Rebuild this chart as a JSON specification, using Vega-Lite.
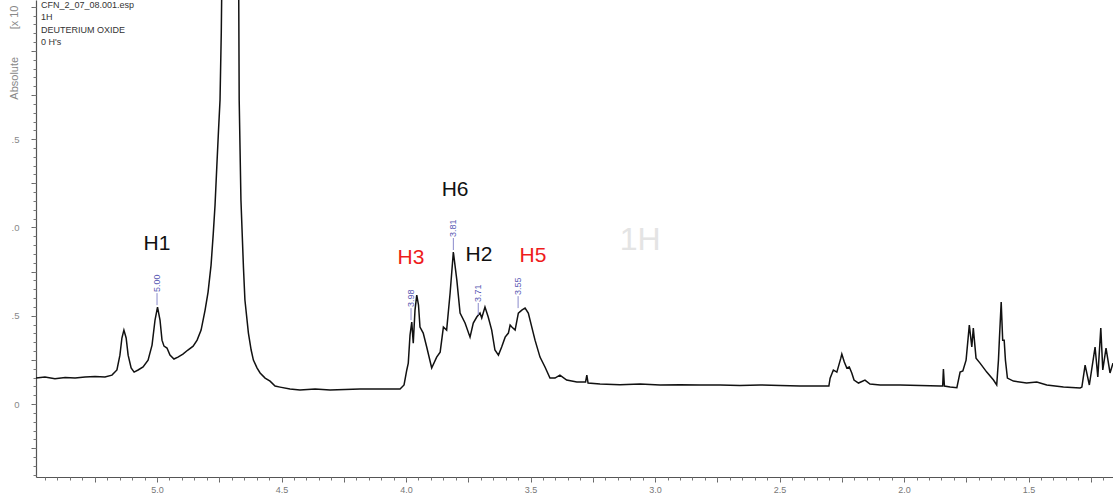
{
  "$schema": "https://vega.github.io/schema/vega-lite/v6.json",
  "width": 1077,
  "height": 477,
  "autosize": {"type": "none"},
  "padding": {"left": 36, "top": 0, "right": 0, "bottom": 17},
  "background": "white",
  "config": {"view": {"stroke": null}, "font": "Liberation Sans"},
  "title": {
    "text": ["CFN_2_07_08.001.esp", "1H", "DEUTERIUM OXIDE", "0 H's"],
    "anchor": "start", "frame": "group", "orient": "top",
    "fontSize": 9, "fontWeight": "normal", "font": "Liberation Sans",
    "color": "#333333", "lineHeight": 12.5, "baseline": "top", "offset": 0, "dx": 5, "dy": 47
  },
  "datasets": {
    "spectrum": [
      {"ppm":5.486,"intensity":0.147},{"ppm":5.450,"intensity":0.153},{"ppm":5.410,"intensity":0.144},{"ppm":5.369,"intensity":0.150},{"ppm":5.329,"intensity":0.147},{"ppm":5.289,"intensity":0.153},{"ppm":5.249,"intensity":0.156},{"ppm":5.209,"intensity":0.153},{"ppm":5.181,"intensity":0.164},{"ppm":5.161,"intensity":0.193},{"ppm":5.149,"intensity":0.277},{"ppm":5.141,"intensity":0.374},{"ppm":5.133,"intensity":0.419},{"ppm":5.124,"intensity":0.374},{"ppm":5.116,"intensity":0.277},{"ppm":5.104,"intensity":0.204},{"ppm":5.092,"intensity":0.181},{"ppm":5.076,"intensity":0.193},{"ppm":5.056,"intensity":0.210},{"ppm":5.036,"intensity":0.249},{"ppm":5.020,"intensity":0.334},{"ppm":5.008,"intensity":0.476},{"ppm":4.998,"intensity":0.549},{"ppm":4.988,"intensity":0.476},{"ppm":4.980,"intensity":0.362},{"ppm":4.972,"intensity":0.328},{"ppm":4.960,"intensity":0.317},{"ppm":4.948,"intensity":0.277},{"ppm":4.932,"intensity":0.255},{"ppm":4.916,"intensity":0.266},{"ppm":4.896,"intensity":0.283},{"ppm":4.876,"intensity":0.306},{"ppm":4.855,"intensity":0.328},{"ppm":4.839,"intensity":0.362},{"ppm":4.823,"intensity":0.419},{"ppm":4.807,"intensity":0.532},{"ppm":4.795,"intensity":0.634},{"ppm":4.783,"intensity":0.787},{"ppm":4.774,"intensity":0.968},{"ppm":4.767,"intensity":1.127},{"ppm":4.760,"intensity":1.342},{"ppm":4.753,"intensity":1.552},{"ppm":4.747,"intensity":1.721},{"ppm":4.742,"intensity":2.101},{"ppm":4.740,"intensity":2.35},{"ppm":4.706,"intensity":6.0},{"ppm":4.672,"intensity":2.35},{"ppm":4.670,"intensity":1.721},{"ppm":4.663,"intensity":1.155},{"ppm":4.653,"intensity":0.776},{"ppm":4.647,"intensity":0.589},{"ppm":4.633,"intensity":0.402},{"ppm":4.622,"intensity":0.306},{"ppm":4.613,"intensity":0.249},{"ppm":4.598,"intensity":0.204},{"ppm":4.586,"intensity":0.176},{"ppm":4.566,"intensity":0.147},{"ppm":4.546,"intensity":0.130},{"ppm":4.526,"intensity":0.102},{"ppm":4.506,"intensity":0.096},{"ppm":4.466,"intensity":0.085},{"ppm":4.426,"intensity":0.079},{"ppm":4.365,"intensity":0.085},{"ppm":4.305,"intensity":0.079},{"ppm":4.245,"intensity":0.082},{"ppm":4.185,"intensity":0.085},{"ppm":4.124,"intensity":0.085},{"ppm":4.064,"intensity":0.085},{"ppm":4.024,"intensity":0.085},{"ppm":4.008,"intensity":0.108},{"ppm":3.997,"intensity":0.193},{"ppm":3.991,"intensity":0.232},{"ppm":3.984,"intensity":0.391},{"ppm":3.977,"intensity":0.464},{"ppm":3.971,"intensity":0.345},{"ppm":3.964,"intensity":0.532},{"ppm":3.957,"intensity":0.617},{"ppm":3.950,"intensity":0.561},{"ppm":3.944,"intensity":0.436},{"ppm":3.931,"intensity":0.402},{"ppm":3.917,"intensity":0.323},{"ppm":3.897,"intensity":0.204},{"ppm":3.877,"intensity":0.266},{"ppm":3.863,"intensity":0.294},{"ppm":3.850,"intensity":0.436},{"ppm":3.837,"intensity":0.419},{"ppm":3.823,"intensity":0.629},{"ppm":3.810,"intensity":0.861},{"ppm":3.796,"intensity":0.702},{"ppm":3.783,"intensity":0.515},{"ppm":3.763,"intensity":0.459},{"ppm":3.743,"intensity":0.379},{"ppm":3.730,"intensity":0.459},{"ppm":3.716,"intensity":0.493},{"ppm":3.703,"intensity":0.515},{"ppm":3.696,"intensity":0.487},{"ppm":3.683,"intensity":0.549},{"ppm":3.670,"intensity":0.493},{"ppm":3.656,"intensity":0.419},{"ppm":3.643,"intensity":0.306},{"ppm":3.629,"intensity":0.277},{"ppm":3.616,"intensity":0.323},{"ppm":3.602,"intensity":0.379},{"ppm":3.589,"intensity":0.402},{"ppm":3.582,"intensity":0.447},{"ppm":3.575,"intensity":0.436},{"ppm":3.562,"intensity":0.419},{"ppm":3.549,"intensity":0.515},{"ppm":3.535,"intensity":0.532},{"ppm":3.522,"intensity":0.544},{"ppm":3.509,"intensity":0.515},{"ppm":3.495,"intensity":0.436},{"ppm":3.482,"intensity":0.362},{"ppm":3.462,"intensity":0.266},{"ppm":3.442,"intensity":0.210},{"ppm":3.422,"intensity":0.147},{"ppm":3.402,"intensity":0.147},{"ppm":3.382,"intensity":0.164},{"ppm":3.355,"intensity":0.136},{"ppm":3.314,"intensity":0.125},{"ppm":3.279,"intensity":0.125},{"ppm":3.274,"intensity":0.164},{"ppm":3.269,"intensity":0.119},{"ppm":3.221,"intensity":0.113},{"ppm":3.141,"intensity":0.110},{"ppm":3.060,"intensity":0.113},{"ppm":2.980,"intensity":0.108},{"ppm":2.900,"intensity":0.110},{"ppm":2.819,"intensity":0.108},{"ppm":2.739,"intensity":0.108},{"ppm":2.659,"intensity":0.105},{"ppm":2.578,"intensity":0.108},{"ppm":2.498,"intensity":0.105},{"ppm":2.418,"intensity":0.102},{"ppm":2.357,"intensity":0.102},{"ppm":2.302,"intensity":0.102},{"ppm":2.297,"intensity":0.147},{"ppm":2.284,"intensity":0.193},{"ppm":2.270,"intensity":0.181},{"ppm":2.254,"intensity":0.260},{"ppm":2.250,"intensity":0.283},{"ppm":2.240,"intensity":0.238},{"ppm":2.230,"intensity":0.204},{"ppm":2.220,"intensity":0.210},{"ppm":2.210,"intensity":0.176},{"ppm":2.201,"intensity":0.136},{"ppm":2.183,"intensity":0.119},{"ppm":2.157,"intensity":0.136},{"ppm":2.137,"intensity":0.113},{"ppm":2.096,"intensity":0.108},{"ppm":2.016,"intensity":0.108},{"ppm":1.936,"intensity":0.105},{"ppm":1.855,"intensity":0.102},{"ppm":1.845,"intensity":0.102},{"ppm":1.842,"intensity":0.198},{"ppm":1.838,"intensity":0.102},{"ppm":1.815,"intensity":0.096},{"ppm":1.788,"intensity":0.093},{"ppm":1.775,"intensity":0.181},{"ppm":1.764,"intensity":0.187},{"ppm":1.751,"intensity":0.249},{"ppm":1.738,"intensity":0.447},{"ppm":1.728,"intensity":0.323},{"ppm":1.722,"intensity":0.430},{"ppm":1.711,"intensity":0.260},{"ppm":1.695,"intensity":0.232},{"ppm":1.668,"intensity":0.181},{"ppm":1.641,"intensity":0.136},{"ppm":1.628,"intensity":0.108},{"ppm":1.621,"intensity":0.249},{"ppm":1.617,"intensity":0.374},{"ppm":1.610,"intensity":0.578},{"ppm":1.604,"intensity":0.362},{"ppm":1.598,"intensity":0.362},{"ppm":1.593,"intensity":0.249},{"ppm":1.585,"intensity":0.147},{"ppm":1.561,"intensity":0.130},{"ppm":1.508,"intensity":0.119},{"ppm":1.467,"intensity":0.125},{"ppm":1.427,"intensity":0.108},{"ppm":1.360,"intensity":0.096},{"ppm":1.293,"intensity":0.091},{"ppm":1.286,"intensity":0.096},{"ppm":1.273,"intensity":0.221},{"ppm":1.256,"intensity":0.108},{"ppm":1.233,"intensity":0.323},{"ppm":1.222,"intensity":0.153},{"ppm":1.210,"intensity":0.430},{"ppm":1.202,"intensity":0.193},{"ppm":1.189,"intensity":0.317},{"ppm":1.173,"intensity":0.176},{"ppm":1.161,"intensity":0.232}
    ],
    "peaks": [
      {"ppm": 5.00, "peak": 0.549, "label": "5.00"},
      {"ppm": 3.98, "peak": 0.464, "label": "3.98"},
      {"ppm": 3.81, "peak": 0.861, "label": "3.81"},
      {"ppm": 3.71, "peak": 0.493, "label": "3.71"},
      {"ppm": 3.55, "peak": 0.532, "label": "3.55"}
    ],
    "assignBlack": [
      {"ppm": 5.00, "intensity": 0.906, "label": "H1"},
      {"ppm": 3.803, "intensity": 1.212, "label": "H6"},
      {"ppm": 3.707, "intensity": 0.844, "label": "H2"}
    ],
    "assignRed": [
      {"ppm": 3.980, "intensity": 0.827, "label": "H3"},
      {"ppm": 3.490, "intensity": 0.838, "label": "H5"}
    ],
    "watermark": [
      {"ppm": 3.060, "intensity": 0.929, "label": "1H"}
    ]
  },
  "resolve": {"axis": {"x": "independent", "y": "independent"}},
  "layer": [
    {
      "data": {"name": "spectrum"},
      "mark": {"type": "line", "color": "#111111", "strokeWidth": 1.5, "clip": true, "interpolate": "linear"},
      "encoding": {
        "x": {"field": "ppm", "type": "quantitative",
          "scale": {"domain": [1.161, 5.486], "reverse": true, "nice": false, "zero": false},
          "axis": {"orient": "bottom", "values": [5.25, 5.0, 4.75, 4.5, 4.25, 4.0, 3.75, 3.5, 3.25, 3.0, 2.75, 2.5, 2.25, 2.0, 1.75, 1.5, 1.25],
            "labelExpr": "(datum.value * 2) % 1 == 0 ? format(datum.value, '.1f') : ''",
            "title": null, "grid": false, "tickSize": 5, "tickColor": "#666666", "domainColor": "#555555", "domainWidth": 1.2,
            "labelColor": "#777777", "labelFontSize": 9, "labelFont": "Liberation Sans", "labelPadding": 3, "labelFlush": false, "labelOverlap": false}},
        "y": {"field": "intensity", "type": "quantitative",
          "scale": {"domain": [-0.413, 2.288], "nice": false, "zero": false},
          "axis": {"orient": "left", "values": [-0.25, 0, 0.25, 0.5, 0.75, 1.0, 1.25, 1.5, 1.75, 2.0, 2.25],
            "labelExpr": "datum.value == 0 ? '0' : (datum.value == 0.5 || datum.value == 1.5 ? '.5' : (datum.value == 1 ? '.0' : ''))",
            "title": "Absolute\u00a0\u00a0\u00a0\u00a0\u00a0\u00a0\u00a0\u00a0\u00a0[x 10", "titleAnchor": "end", "titleAngle": 270, "titleAlign": "right", "titleBaseline": "middle",
            "titleX": -22, "titleY": 5, "titleFontSize": 11, "titleFontWeight": "normal", "titleColor": "#888888", "titleFont": "Liberation Sans",
            "grid": false, "tickSize": 5, "tickColor": "#666666", "domainColor": "#555555", "domainWidth": 1.2,
            "labelColor": "#888888", "labelFontSize": 9.5, "labelFont": "Liberation Sans", "labelPadding": 12, "labelAlign": "right", "labelOverlap": false}}
      }
    },
    {
      "data": {"name": "peaks"},
      "mark": {"type": "rule", "color": "#8a8acc", "strokeWidth": 1, "yOffset": -2, "y2Offset": -14},
      "encoding": {
        "x": {"field": "ppm", "type": "quantitative",
          "axis": {"orient": "bottom", "values": [5.45,5.4,5.35,5.3,5.25,5.2,5.15,5.1,5.05,5.0,4.95,4.9,4.85,4.8,4.75,4.7,4.65,4.6,4.55,4.5,4.45,4.4,4.35,4.3,4.25,4.2,4.15,4.1,4.05,4.0,3.95,3.9,3.85,3.8,3.75,3.7,3.65,3.6,3.55,3.5,3.45,3.4,3.35,3.3,3.25,3.2,3.15,3.1,3.05,3.0,2.95,2.9,2.85,2.8,2.75,2.7,2.65,2.6,2.55,2.5,2.45,2.4,2.35,2.3,2.25,2.2,2.15,2.1,2.05,2.0,1.95,1.9,1.85,1.8,1.75,1.7,1.65,1.6,1.55,1.5,1.45,1.4,1.35,1.3,1.25,1.2],
            "labels": false, "domain": false, "grid": false, "title": null, "tickSize": 3, "tickColor": "#777777"}},
        "y": {"field": "peak", "type": "quantitative",
          "axis": {"orient": "left", "values": [-0.4,-0.35,-0.3,-0.25,-0.2,-0.15,-0.1,-0.05,0,0.05,0.1,0.15,0.2,0.25,0.3,0.35,0.4,0.45,0.5,0.55,0.6,0.65,0.7,0.75,0.8,0.85,0.9,0.95,1.0,1.05,1.1,1.15,1.2,1.25,1.3,1.35,1.4,1.45,1.5,1.55,1.6,1.65,1.7,1.75,1.8,1.85,1.9,1.95,2.0,2.05,2.1,2.15,2.2,2.25],
            "labels": false, "domain": false, "grid": false, "title": null, "tickSize": 3, "tickColor": "#777777"}},
        "y2": {"field": "peak"}
      }
    },
    {
      "data": {"name": "peaks"},
      "mark": {"type": "text", "angle": 270, "align": "left", "baseline": "middle", "dx": 15, "fontSize": 9, "font": "Liberation Sans", "color": "#5a5ab4"},
      "encoding": {
        "x": {"field": "ppm", "type": "quantitative", "axis": null},
        "y": {"field": "peak", "type": "quantitative", "axis": null},
        "text": {"field": "label"}
      }
    },
    {
      "data": {"name": "assignBlack"},
      "mark": {"type": "text", "align": "center", "baseline": "middle", "fontSize": 21, "font": "Liberation Sans", "color": "#111111"},
      "encoding": {
        "x": {"field": "ppm", "type": "quantitative", "axis": null},
        "y": {"field": "intensity", "type": "quantitative", "axis": null},
        "text": {"field": "label"}
      }
    },
    {
      "data": {"name": "assignRed"},
      "mark": {"type": "text", "align": "center", "baseline": "middle", "fontSize": 21, "font": "Liberation Sans", "color": "#ee1c1c"},
      "encoding": {
        "x": {"field": "ppm", "type": "quantitative", "axis": null},
        "y": {"field": "intensity", "type": "quantitative", "axis": null},
        "text": {"field": "label"}
      }
    },
    {
      "data": {"name": "watermark"},
      "mark": {"type": "text", "align": "center", "baseline": "middle", "fontSize": 32, "font": "Liberation Sans", "color": "#e4e4e4"},
      "encoding": {
        "x": {"field": "ppm", "type": "quantitative", "axis": null},
        "y": {"field": "intensity", "type": "quantitative", "axis": null},
        "text": {"field": "label"}
      }
    }
  ]
}
